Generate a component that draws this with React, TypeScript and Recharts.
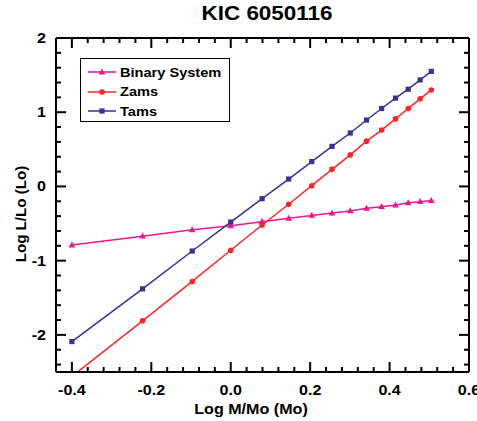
import React from "react";
import { LineChart, Line, XAxis, YAxis } from "recharts";

// log M/Mo for the model masses
const binaryX = [-0.4, -0.222, -0.097, 0, 0.079, 0.146, 0.204, 0.255, 0.301, 0.342, 0.38, 0.415, 0.447, 0.477, 0.505];
const binaryY = [-0.79, -0.67, -0.585, -0.53, -0.475, -0.43, -0.39, -0.358, -0.33, -0.295, -0.273, -0.25, -0.22, -0.205, -0.19];

const zamsX = [-0.4, -0.222, -0.097, 0, 0.079, 0.146, 0.204, 0.255, 0.301, 0.342, 0.38, 0.415, 0.447, 0.477, 0.505];
const zamsY = [-2.56, -1.81, -1.28, -0.86, -0.52, -0.24, 0.01, 0.23, 0.425, 0.61, 0.76, 0.91, 1.05, 1.18, 1.3];

const tamsX = [-0.4, -0.222, -0.097, 0, 0.079, 0.146, 0.204, 0.255, 0.301, 0.342, 0.38, 0.415, 0.447, 0.477, 0.505];
const tamsY = [-2.09, -1.38, -0.87, -0.48, -0.165, 0.1, 0.335, 0.54, 0.72, 0.895, 1.05, 1.19, 1.31, 1.435, 1.55];

const MAJOR_X = [-0.4, -0.2, 0, 0.2, 0.4, 0.6];
const MAJOR_Y = [-2, -1, 0, 1, 2];
const X_TICKS = Array.from({ length: 27 }, (_, i) => +(-0.44 + 0.04 * i).toFixed(2));
const Y_TICKS = Array.from({ length: 23 }, (_, i) => +(-2.4 + 0.2 * i).toFixed(1));

const PINK = "#f0168f";
const RED = "#ff2424";
const BLUE = "#333399";
const FONT = "'Liberation Sans', Arial, sans-serif";

const toRows = (xs: number[], ys: number[]) => xs.map((x, i) => ({ x, y: ys[i] }));
const binaryData = toRows(binaryX, binaryY);
const zamsData = toRows(zamsX, zamsY);
const tamsData = toRows(tamsX, tamsY);

const isMajor = (list: number[], v: number) => list.some((m) => Math.abs(m - v) < 1e-6);

function Shape({ kind, cx, cy, color }: { kind: string; cx: number; cy: number; color: string }) {
  if (kind === "tri")
    return <polygon points={`${cx},${cy - 3.6} ${cx - 3.4},${cy + 2.4} ${cx + 3.4},${cy + 2.4}`} fill={color} />;
  if (kind === "sq") return <rect x={cx - 2.6} y={cy - 2.6} width={5.2} height={5.2} fill={color} />;
  return <circle cx={cx} cy={cy} r={2.8} fill={color} />;
}

const dotFor = (kind: string, color: string) => (p: any) =>
  <Shape key={`${kind}-${p.index}`} kind={kind} cx={p.cx} cy={p.cy} color={color} />;

// ticks point inwards; labels only on major ticks
const BottomTick = (p: any) => {
  const v = p.payload.value;
  const major = isMajor(MAJOR_X, v);
  return (
    <g>
      <line x1={p.x} x2={p.x} y1={p.y} y2={p.y - (major ? 10 : 5)} stroke="#000" strokeWidth={2} />
      {major && (
        <text transform={`translate(${p.x},${p.y + 23}) scale(1.15,1)`} textAnchor="middle"
          fontFamily={FONT} fontWeight="bold" fontSize={14} fill="#000">
          {v.toFixed(1)}
        </text>
      )}
    </g>
  );
};

const TopTick = (p: any) => {
  const major = isMajor(MAJOR_X, p.payload.value);
  return <line x1={p.x} x2={p.x} y1={p.y} y2={p.y + (major ? 10 : 5)} stroke="#000" strokeWidth={2} />;
};

const LeftTick = (p: any) => {
  const v = p.payload.value;
  const major = isMajor(MAJOR_Y, v);
  return (
    <g>
      <line x1={p.x} x2={p.x + (major ? 10 : 5)} y1={p.y} y2={p.y} stroke="#000" strokeWidth={2} />
      {major && (
        <text transform={`translate(${p.x - 10},${p.y + 5}) scale(1.15,1)`} textAnchor="end"
          fontFamily={FONT} fontWeight="bold" fontSize={14} fill="#000">
          {String(v)}
        </text>
      )}
    </g>
  );
};

const RightTick = (p: any) => {
  const major = isMajor(MAJOR_Y, p.payload.value);
  return <line x1={p.x} x2={p.x - (major ? 10 : 5)} y1={p.y} y2={p.y} stroke="#000" strokeWidth={2} />;
};

const legendItems = [
  { name: "Binary System", color: PINK, kind: "tri" },
  { name: "Zams", color: RED, kind: "dot" },
  { name: "Tams", color: BLUE, kind: "sq" },
];

export default function App() {
  const axisLine = { stroke: "#000", strokeWidth: 2 };
  return (
    <div style={{ position: "absolute", left: 0, top: 0, width: 477, height: 421, overflow: "hidden", background: "#fff", fontFamily: FONT }}>
      <div style={{ position: "absolute", left: 167, width: 200, top: 2, textAlign: "center", fontWeight: "bold", fontSize: 19.5, transform: "scaleX(1.15)" }}>
        KIC 6050116
      </div>
      <div style={{ position: "absolute", left: 151, width: 200, top: 401, textAlign: "center", fontWeight: "bold", fontSize: 14, transform: "scaleX(1.15)" }}>
        Log M/Mo (Mo)
      </div>
      <div style={{ position: "absolute", left: -79, width: 200, top: 206, textAlign: "center", fontWeight: "bold", fontSize: 14, transform: "rotate(-90deg) scaleX(1.08)" }}>
        Log L/Lo (Lo)
      </div>

      <LineChart width={477} height={421} margin={{ top: 37, right: 7, bottom: 48, left: 55 }}>
        <XAxis dataKey="x" type="number" domain={[-0.44, 0.6]} ticks={X_TICKS} interval={0}
          allowDataOverflow height={1} tickSize={0} tickMargin={0} axisLine={axisLine} tick={BottomTick} />
        <XAxis xAxisId="top" orientation="top" dataKey="x" type="number" domain={[-0.44, 0.6]} ticks={X_TICKS} interval={0}
          allowDataOverflow height={1} tickSize={0} tickMargin={0} axisLine={axisLine} tick={TopTick} />
        <YAxis dataKey="y" type="number" domain={[-2.5, 2]} ticks={Y_TICKS} interval={0}
          allowDataOverflow width={1} tickSize={0} tickMargin={0} axisLine={axisLine} tick={LeftTick} />
        <YAxis yAxisId="right" orientation="right" type="number" domain={[-2.5, 2]} ticks={Y_TICKS} interval={0}
          allowDataOverflow width={1} tickSize={0} tickMargin={0} axisLine={axisLine} tick={RightTick} />
        <Line data={binaryData} dataKey="y" stroke={PINK} strokeWidth={1.5} dot={dotFor("tri", PINK)} isAnimationActive={false} />
        <Line data={zamsData} dataKey="y" stroke={RED} strokeWidth={1.5} dot={dotFor("dot", RED)} isAnimationActive={false} />
        <Line data={tamsData} dataKey="y" stroke={BLUE} strokeWidth={1.5} dot={dotFor("sq", BLUE)} isAnimationActive={false} />
      </LineChart>

      <div style={{ position: "absolute", left: 80, top: 58, width: 148, height: 62, border: "1px solid #000", background: "#fff" }}>
        {legendItems.map((it, i) => (
          <div key={it.name} style={{ position: "absolute", left: 6, top: 4 + i * 19.5, height: 18, display: "flex", alignItems: "center" }}>
            <svg width={30} height={18}>
              <line x1={1} x2={29} y1={9} y2={9} stroke={it.color} strokeWidth={1.5} />
              <Shape kind={it.kind} cx={15} cy={9} color={it.color} />
            </svg>
            <span style={{ marginLeft: 3, fontWeight: "bold", fontSize: 13.5, transform: "scaleX(1.08)", transformOrigin: "left center", display: "inline-block" }}>
              {it.name}
            </span>
          </div>
        ))}
      </div>
    </div>
  );
}
